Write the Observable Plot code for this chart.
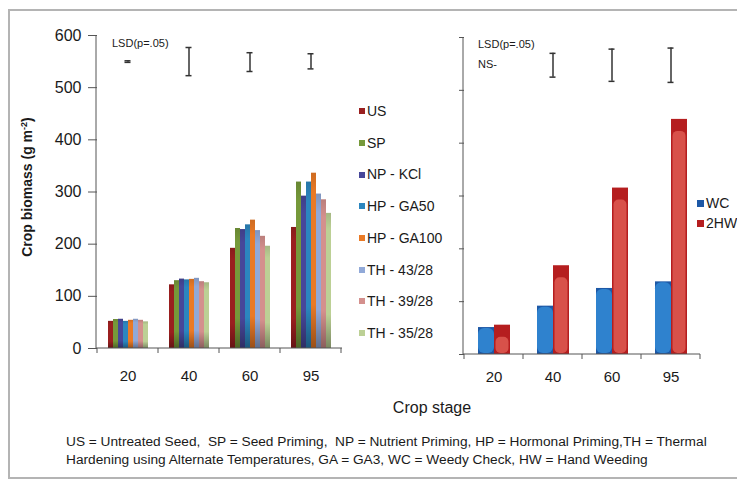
<!DOCTYPE html>
<html><head><meta charset="utf-8">
<script src="https://cdn.jsdelivr.net/npm/d3@7"></script>
<script src="https://cdn.jsdelivr.net/npm/@observablehq/plot@0.6"></script>
<style>
body{margin:0;background:#fff;font-family:"Liberation Sans",Arial,sans-serif;}
#root{position:relative;width:737px;height:480px;overflow:hidden;background:#fff;}
#frame{position:absolute;left:8px;top:9px;width:760px;height:466px;border:2px solid #b4b4b4;border-right:none;}
.abs{position:absolute;white-space:nowrap;color:#1a1a1a;}
.plot{position:absolute;top:0;}
.leg{position:absolute;white-space:nowrap;font-size:14px;line-height:16px;color:#1a1a1a;}
.leg i{display:inline-block;width:6px;height:6px;margin-right:2px;vertical-align:middle;position:relative;top:-1px;}
</style></head><body>
<svg width="0" height="0" style="position:absolute"><defs>
<linearGradient id="shade" x1="0" y1="0" x2="0" y2="1">
<stop offset="0" stop-color="#000" stop-opacity="0.12"/>
<stop offset="0.12" stop-color="#000" stop-opacity="0"/>
<stop offset="0.75" stop-color="#000" stop-opacity="0"/>
<stop offset="1" stop-color="#000" stop-opacity="0.35"/>
</linearGradient>
</defs></svg>
<div id="root">
<div id="frame"></div>
<div id="leftPlot" class="plot" style="left:0"></div>
<div id="rightPlot" class="plot" style="left:420px"></div>
<div class="abs" id="ytitle" style="left:27px;top:187px;transform:translate(-50%,-50%) rotate(-90deg);font-weight:bold;font-size:14px;">Crop biomass (g m<sup style="font-size:9px">-2</sup>)</div>
<div class="abs" style="left:112px;top:37px;font-size:11px;">LSD(p=.05)</div>
<div class="abs" style="left:478px;top:38px;font-size:11px;">LSD(p=.05)</div>
<div class="abs" style="left:478px;top:58px;font-size:11px;">NS-</div>
<div class="abs" style="left:432px;top:399px;transform:translateX(-50%);font-size:16px;">Crop stage</div>
<div class="abs" style="left:66px;top:433px;font-size:13.7px;line-height:17.5px;">US = Untreated Seed,&nbsp; SP = Seed Priming,&nbsp; NP = Nutrient Priming, HP = Hormonal Priming,TH = Thermal<br>Hardening using Alternate Temperatures, GA = GA3, WC = Weedy Check, HW = Hand Weeding</div>
<div id="legendLeft"></div>
<div id="legendRight"></div>
</div>
<script>
// ---- data ----
const stages = ["20", "40", "60", "95"];
const seedTreatments = ["US", "SP", "NP - KCl", "HP - GA50", "HP - GA100", "TH - 43/28", "TH - 39/28", "TH - 35/28"];
const biomass20 = [52, 55.5, 56, 52, 54, 56, 54, 51];
const biomass40 = [122, 130, 133, 131.5, 132.5, 134.5, 128, 126];
const biomass60 = [192, 230, 228, 237, 246, 226, 215, 196];
const biomass95 = [232, 319, 292, 319, 336, 296, 285, 259];
const lsdSeedLow = [548.5, 523, 531, 536];
const lsdSeedHigh = [551.5, 577, 567, 565];
const weedTreatments = ["WC", "2HW"];
const weedWC = [51, 91.5, 125, 137.5];
const weed2HW = [55.5, 168, 315, 445];
const lsdWeedStages = ["40", "60", "95"];
const lsdWeedLow = [525, 517, 515];
const lsdWeedHigh = [570, 578, 580];
const yTicks = [0, 100, 200, 300, 400, 500, 600];

// ---- styles ----
const seedColors = ["#9a1f1f", "#76993a", "#47479a", "#2c86bf", "#ea7a26", "#91a9d8", "#d4908d", "#bcd095"];
const weedOuter = ["#1d58a6", "#b51e1f"];
const weedInner = ["#2f82ce", "#d8514a"];
const font = "Liberation Sans, Arial, sans-serif";

// ---- tables ----
const seedSeries = [biomass20, biomass40, biomass60, biomass95];
const seedRows = stages.flatMap((s, si) => seedTreatments.map((t, ti) => ({stage: s, treatment: t, value: seedSeries[si][ti]})));
const lsdSeed = stages.map((s, i) => ({stage: s, lo: lsdSeedLow[i], hi: lsdSeedHigh[i]}));
const weedRows = stages.flatMap((s, si) => [
  {stage: s, treatment: "WC", value: weedWC[si]},
  {stage: s, treatment: "2HW", value: weed2HW[si]}
]);
const wcRows = weedRows.filter(d => d.treatment === "WC");
const hwRows = weedRows.filter(d => d.treatment === "2HW");
const lsdWeed = lsdWeedStages.map((s, i) => ({stage: s, lo: lsdWeedLow[i], hi: lsdWeedHigh[i]}));

function decorate(plot, tickLen) {
  const svg = d3.select(plot);
  const fx = plot.scale("fx"), y = plot.scale("y");
  const x0 = fx.range[0], x1 = fx.range[1];
  const y0 = y.apply(0), yTop = y.apply(600);
  const g = svg.append("g").attr("stroke", "#555").attr("stroke-width", 1).attr("fill", "none");
  g.append("line").attr("x1", x0).attr("x2", x0).attr("y1", y0).attr("y2", yTop);
  g.append("line").attr("x1", x0).attr("x2", x1).attr("y1", y0).attr("y2", y0);
  const edges = fx.domain.map(d => fx.apply(d)).concat([fx.apply(fx.domain[fx.domain.length - 1]) + fx.bandwidth]);
  edges.forEach(e => g.append("line").attr("x1", e).attr("x2", e).attr("y1", y0).attr("y2", y0 + tickLen));
}

const lsdMarks = (data, inset) => [
  Plot.ruleX(data, {fx: "stage", x: null, y1: "lo", y2: "hi", stroke: "#333", strokeWidth: 1.5}),
  Plot.tickY(data, {fx: "stage", y: "lo", stroke: "#333", strokeWidth: 1.5, insetLeft: inset, insetRight: inset}),
  Plot.tickY(data, {fx: "stage", y: "hi", stroke: "#333", strokeWidth: 1.5, insetLeft: inset, insetRight: inset})
];

const left = Plot.plot({
  width: 350, height: 400,
  marginLeft: 96, marginRight: 8, marginTop: 35, marginBottom: 52,
  style: {fontFamily: font, fontSize: "15px", color: "#1a1a1a", background: "transparent", overflow: "visible"},
  fx: {domain: stages, padding: 0, label: null},
  x: {domain: seedTreatments, paddingInner: 0, paddingOuter: 1.125, axis: null},
  y: {domain: [0, 600], label: null},
  color: {domain: seedTreatments, range: seedColors},
  marks: [
    Plot.barY(seedRows, {fx: "stage", x: "treatment", y: "value", fill: "treatment"}),
    Plot.barY(seedRows, {fx: "stage", x: "treatment", y: "value", fill: "url(#shade)"}),
    Plot.axisY({ticks: yTicks, tickSize: 9, tickPadding: 7, label: null, fontSize: 16, stroke: "#555"}),
    Plot.axisFx({anchor: "bottom", tickSize: 0, tickPadding: 22, label: null, fontSize: 15}),
    ...lsdMarks(lsdSeed, 27.5)
  ]
});
decorate(left, 5);
document.getElementById("leftPlot").appendChild(left);

const right = Plot.plot({
  width: 290, height: 400,
  marginLeft: 43, marginRight: 10, marginTop: 37, marginBottom: 46,
  style: {fontFamily: font, fontSize: "15px", color: "#1a1a1a", background: "transparent", overflow: "visible"},
  fx: {domain: stages, padding: 0, label: null},
  x: {domain: weedTreatments, paddingInner: 0, paddingOuter: 0.74, axis: null},
  y: {domain: [0, 600], label: null},
  marks: [
    Plot.barY(weedRows, {fx: "stage", x: "treatment", y: "value", fill: d => weedOuter[weedTreatments.indexOf(d.treatment)]}),
    Plot.barY(wcRows, {fx: "stage", x: "treatment", y: "value", fill: weedInner[0],
      insetTop: 1, insetLeft: 0, insetRight: 0, insetBottom: 1, rx: 6}),
    Plot.barY(hwRows, {fx: "stage", x: "treatment", y: "value", fill: weedInner[1],
      insetTop: 12, insetLeft: 1.5, insetRight: 1.5, insetBottom: 1, rx: 5}),
    Plot.axisY({ticks: yTicks, tickSize: 5, tickFormat: () => "", label: null, stroke: "#555"}),
    Plot.axisFx({anchor: "bottom", tickSize: 0, tickPadding: 17, label: null, fontSize: 15}),
    ...lsdMarks(lsdWeed, 26.5)
  ]
});
decorate(right, 5);
document.getElementById("rightPlot").appendChild(right);

// ---- legends ----
const legLeft = document.getElementById("legendLeft");
seedTreatments.forEach((t, i) => {
  const d = document.createElement("div");
  d.className = "leg";
  d.style.left = "359px";
  d.style.top = (111 + i * 31.7 - 8) + "px";
  d.innerHTML = `<i style="background:${seedColors[i]}"></i>${t}`;
  legLeft.appendChild(d);
});
const legRight = document.getElementById("legendRight");
weedTreatments.forEach((t, i) => {
  const d = document.createElement("div");
  d.className = "leg";
  d.style.left = "697px";
  d.style.top = (203 + i * 20 - 8) + "px";
  d.innerHTML = `<i style="background:${weedOuter[i]};width:7px;height:7px"></i>${t}`;
  legRight.appendChild(d);
});
</script>
</body></html>
